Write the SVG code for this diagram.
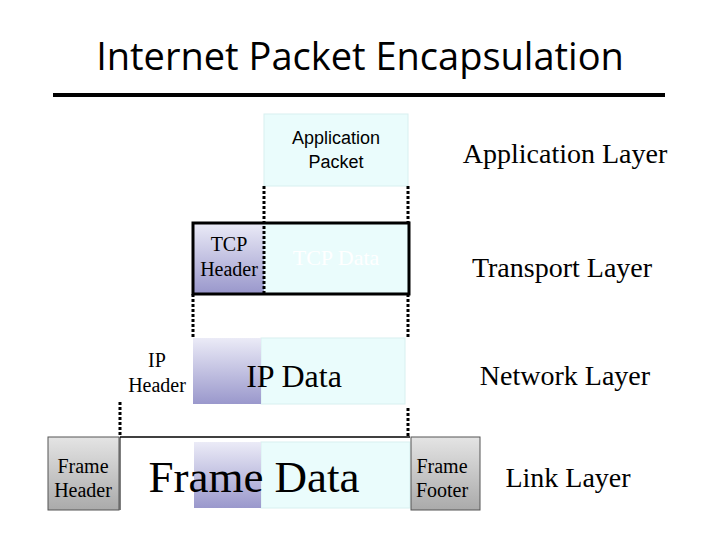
<svg xmlns="http://www.w3.org/2000/svg" width="720" height="540" viewBox="0 0 720 540">
<defs>
<linearGradient id="pur" x1="0" y1="0" x2="0" y2="1"><stop offset="0" stop-color="#ebebf7"/><stop offset="1" stop-color="#9a98cc"/></linearGradient>
<linearGradient id="gry" x1="0" y1="0" x2="0" y2="1"><stop offset="0" stop-color="#e4e4e4"/><stop offset="1" stop-color="#aaaaaa"/></linearGradient>
<style>
.cy{fill:#eafcfc;stroke:#d8f0f0;stroke-width:1}
.dot{stroke:#000;stroke-width:3;stroke-dasharray:3 2;fill:none}
.s{font-family:"Liberation Serif",serif;fill:#000;text-anchor:middle}
.a{font-family:"Liberation Sans",sans-serif;fill:#000;text-anchor:middle}
</style>
</defs>
<rect width="720" height="540" fill="#fff"/>
<text x="360" y="70" font-family="Open Sans,sans-serif" font-size="38" text-anchor="middle">Internet Packet Encapsulation</text>
<rect x="53" y="93" width="612" height="4" fill="#000"/>
<g id="app">
<rect class="cy" x="264" y="114" width="144" height="72"/>
<text class="a" x="336" y="144" font-size="18">Application</text>
<text class="a" x="336" y="168" font-size="18">Packet</text>
</g>
<g id="tcp">
<rect class="cy" x="264" y="223" width="144" height="70"/>
<rect x="193" y="223" width="71" height="70" fill="url(#pur)"/>
<text class="s" x="336" y="265" font-size="22" style="fill:#fff">TCP Data</text>
<text class="s" x="229" y="251" font-size="20">TCP</text>
<text class="s" x="229" y="276" font-size="20">Header</text>
<rect x="193" y="223" width="216" height="71" fill="none" stroke="#000" stroke-width="3"/>
</g>
<g id="ip">
<rect class="cy" x="261" y="338" width="144" height="66"/>
<rect x="193" y="338" width="68" height="66" fill="url(#pur)"/>
<text class="s" x="157" y="367" font-size="20">IP</text>
<text class="s" x="157" y="392" font-size="20">Header</text>
<text class="s" x="294" y="387" font-size="32">IP Data</text>
</g>
<g id="frame">
<rect x="120" y="437" width="290" height="73" fill="#fff"/>
<rect class="cy" x="261" y="442" width="149" height="66"/>
<rect x="194" y="442" width="67" height="66" fill="url(#pur)"/>
<line x1="120" y1="437" x2="410" y2="437" stroke="#000" stroke-width="1.5"/>
<line x1="120" y1="437" x2="120" y2="510" stroke="#000" stroke-width="1"/>
<text class="s" x="254" y="492" font-size="45">Frame Data</text>
<rect x="48" y="437" width="71" height="73" fill="url(#gry)" stroke="#555" stroke-width="1"/>
<text class="s" x="83" y="473" font-size="20">Frame</text>
<text class="s" x="83" y="497" font-size="20">Header</text>
<rect x="411" y="437" width="69" height="73" fill="url(#gry)" stroke="#555" stroke-width="1"/>
<text class="s" x="442" y="473" font-size="20">Frame</text>
<text class="s" x="442" y="497" font-size="20">Footer</text>
</g>
<g id="layers">
<text class="s" x="565" y="163" font-size="28">Application Layer</text>
<text class="s" x="562" y="277" font-size="28">Transport Layer</text>
<text class="s" x="565" y="385" font-size="28">Network Layer</text>
<text class="s" x="568" y="487" font-size="28">Link Layer</text>
</g>
<g id="connectors">
<line class="dot" x1="264" y1="186" x2="264" y2="293"/>
<line class="dot" x1="408" y1="186" x2="408" y2="222"/>
<line class="dot" x1="193" y1="294" x2="193" y2="337"/>
<line class="dot" x1="408" y1="294" x2="408" y2="337"/>
<line class="dot" x1="120" y1="402" x2="120" y2="437"/>
<line class="dot" x1="408" y1="408" x2="408" y2="437"/>
</g>
</svg>
